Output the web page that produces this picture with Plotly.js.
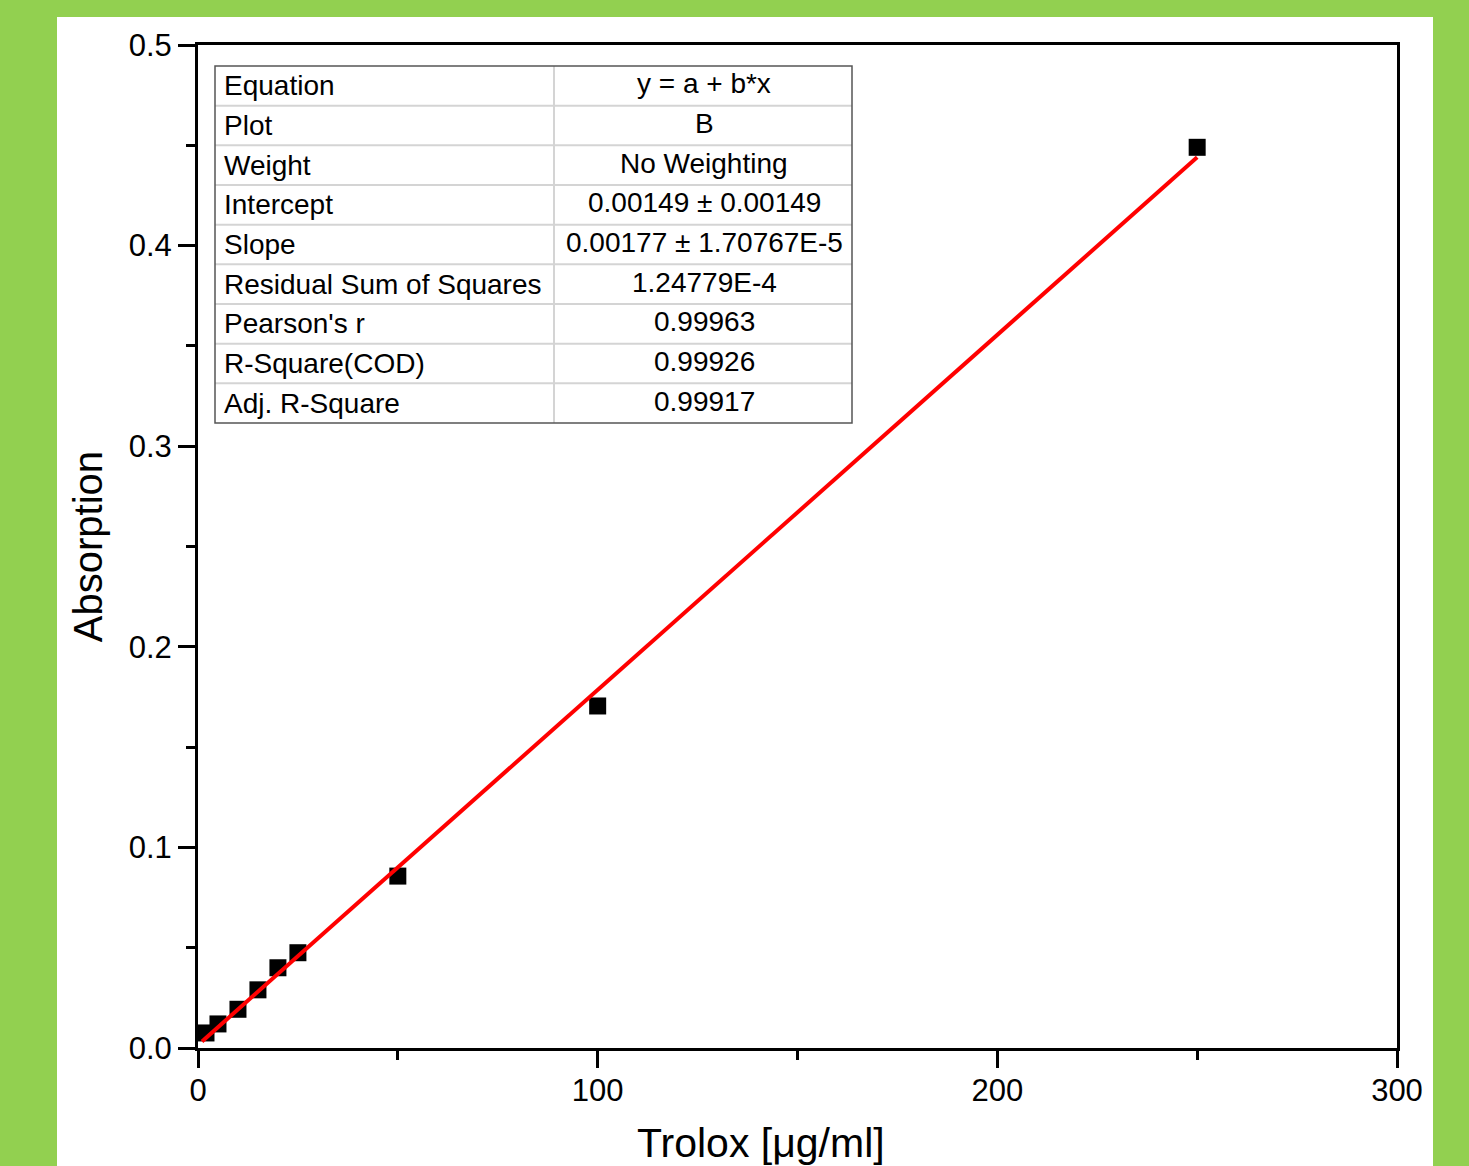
<!DOCTYPE html>
<html>
<head>
<meta charset="utf-8">
<script src="https://cdn.plot.ly/plotly-3.0.1.min.js"></script>
<style>html,body{margin:0;padding:0;background:#92d050;}#chart{width:1469px;height:1166px;}</style>
</head>
<body>
<div id="chart"></div>
<script>
// Data points
const troloxConc = [2, 5, 10, 15, 20, 25, 50, 100, 250];
const absorption = [0.0075, 0.012, 0.0193, 0.029, 0.040, 0.0475, 0.0857, 0.1705, 0.449];
// Linear fit line endpoints as drawn
const fitX = [1, 250];
const fitY = [0.0033, 0.4440];
// Fit report table
const tableLabels = ["Equation", "Plot", "Weight", "Intercept", "Slope",
  "Residual Sum of Squares", "Pearson's r", "R-Square(COD)", "Adj. R-Square"];
const tableValues = ["y = a + b*x", "B", "No Weighting", "0.00149 ± 0.00149",
  "0.00177 ± 1.70767E-5", "1.24779E-4", "0.99963", "0.99926", "0.99917"];
const xTicks = [0, 100, 200, 300];
const yTicks = [0.0, 0.1, 0.2, 0.3, 0.4, 0.5];

const W = 1469, H = 1166;
const mL = 198, mR = 72, mT = 45, mB = 118;
const pw = W - mL - mR, ph = H - mT - mB;
const px = x => (x - mL) / pw;
const py = y => (H - mB - y) / ph;
const FAM = 'Liberation Sans, Arial, sans-serif';

const shapes = [];
const annotations = [];
// white panel
shapes.push({type:'rect', xref:'paper', yref:'paper', layer:'below',
  x0: px(57), x1: px(1433), y0: py(1170), y1: py(17),
  fillcolor:'#ffffff', line:{width:0}});

// table
const tL = 215, tR = 852, tC = 554, tT = 66, tB = 423;
const rowH = (tB - tT) / tableLabels.length;
for (let i = 1; i < tableLabels.length; i++) {
  const yy = tT + i * rowH;
  shapes.push({type:'line', xref:'paper', yref:'paper', x0: px(tL), x1: px(tR), y0: py(yy), y1: py(yy),
    line:{color:'#d4d4d4', width:2}});
}
shapes.push({type:'line', xref:'paper', yref:'paper', x0: px(tC), x1: px(tC), y0: py(tT), y1: py(tB),
  line:{color:'#d4d4d4', width:2}});
shapes.push({type:'rect', xref:'paper', yref:'paper', x0: px(tL), x1: px(tR), y0: py(tB), y1: py(tT),
  line:{color:'#555555', width:1.5}, fillcolor:'rgba(0,0,0,0)'});
const tf = {family: FAM, size:28, color:'#000'};
tableLabels.forEach((lab, i) => {
  const yc = tT + (i + 0.5) * rowH;
  annotations.push({xref:'paper', yref:'paper', x: px(222), y: py(yc), text: lab,
    showarrow:false, xanchor:'left', yanchor:'middle', font: tf});
  annotations.push({xref:'paper', yref:'paper', x: px(704), y: py(yc - 2), text: tableValues[i],
    showarrow:false, xanchor:'center', yanchor:'middle', font: tf});
});
// x-axis title (offset left of plot centre as in the original)
annotations.push({xref:'paper', yref:'paper', x: px(761), y: py(1143), text:'Trolox [μg/ml]',
  showarrow:false, xanchor:'center', yanchor:'middle', font:{family: FAM, size:41, color:'#000'}});

const traces = [
  {x: troloxConc, y: absorption, type:'scatter', mode:'markers',
   marker:{symbol:'square', size:17, color:'#000000'}, cliponaxis:false},
  {x: fitX, y: fitY, type:'scatter', mode:'lines',
   line:{color:'#ff0000', width:4}}
];

const axFont = {family: FAM, size:31, color:'#000'};
const layout = {
  width: W, height: H,
  paper_bgcolor:'#92d050', plot_bgcolor:'#ffffff',
  margin:{l:mL, r:mR, t:mT, b:mB, pad:0},
  showlegend:false,
  xaxis:{range:[0,300], tickvals:xTicks, ticktext:xTicks.map(String),
    showgrid:false, zeroline:false, showline:true, linecolor:'#000', linewidth:3, mirror:true,
    ticks:'outside', ticklen:17, tickwidth:3, tickcolor:'#000', tickfont:axFont, ticklabelstandoff:-4,
    minor:{ticks:'outside', ticklen:9, tickwidth:3, tickcolor:'#000', tickvals:[50,150,250], showgrid:false}},
  yaxis:{range:[0,0.5], tickvals:yTicks, ticktext:yTicks.map(v=>v.toFixed(1)),
    showgrid:false, zeroline:false, showline:true, linecolor:'#000', linewidth:3, mirror:true,
    ticks:'outside', ticklen:17, tickwidth:3, tickcolor:'#000', tickfont:axFont,
    minor:{ticks:'outside', ticklen:9, tickwidth:3, tickcolor:'#000', tickvals:[0.05,0.15,0.25,0.35,0.45], showgrid:false},
    title:{text:'Absorption', font:{family: FAM, size:40, color:'#000'}, standoff:14}},
  shapes: shapes,
  annotations: annotations
};
Plotly.newPlot('chart', traces, layout, {displayModeBar:false, staticPlot:true});
</script>
</body>
</html>
